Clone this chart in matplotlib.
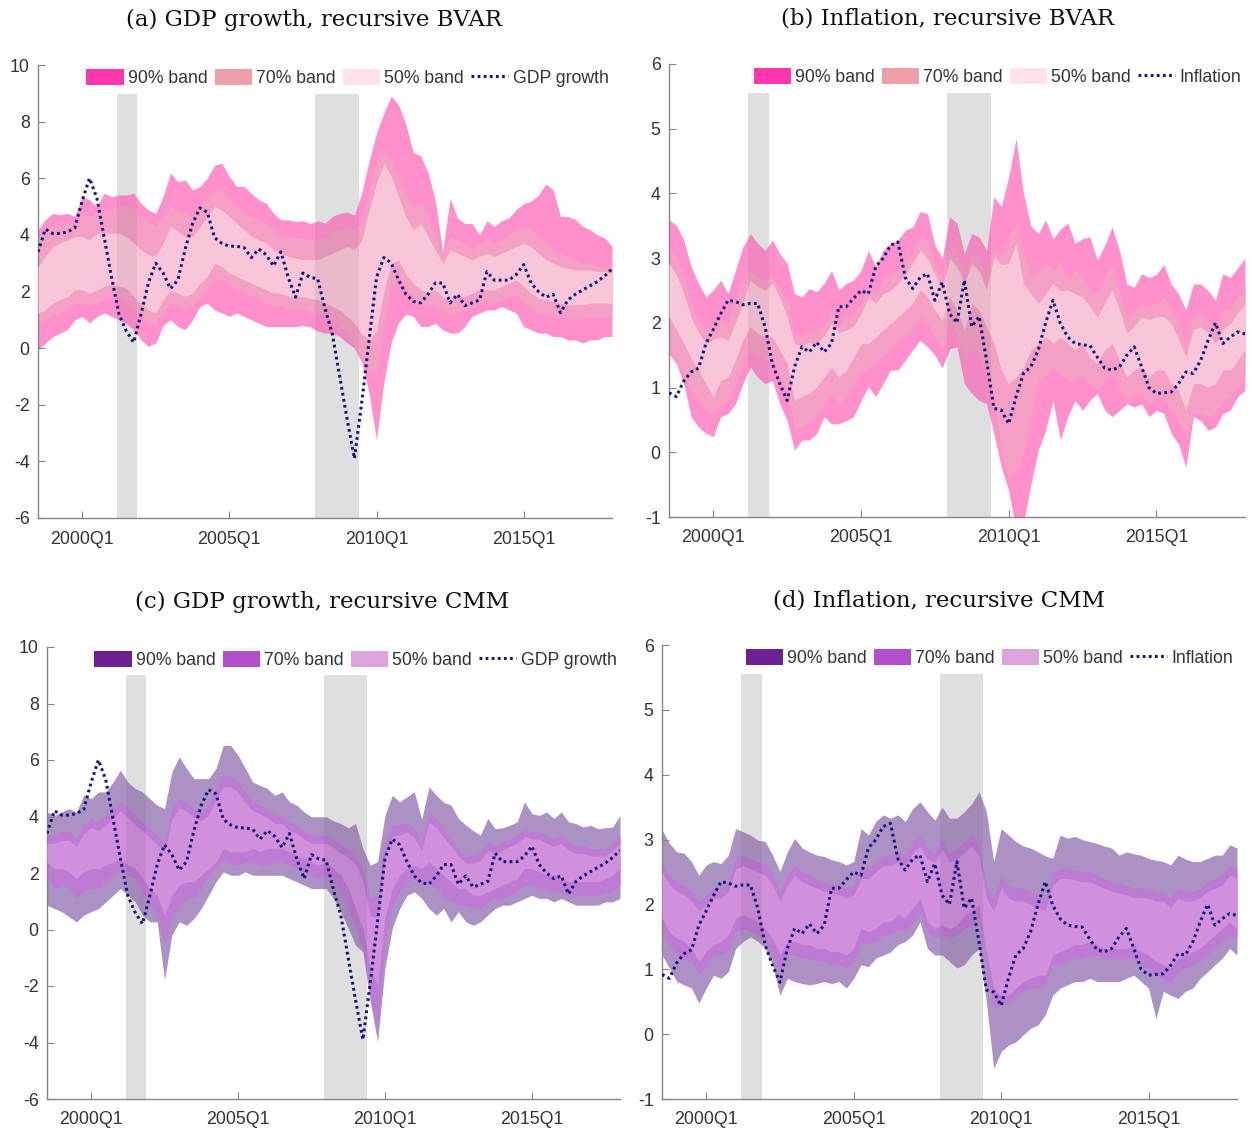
import numpy as np
import matplotlib
matplotlib.use('Agg')
import matplotlib.pyplot as plt
from matplotlib.patches import Patch
from matplotlib.lines import Line2D

# quarterly sample 1998Q3 - 2018Q1
start_year = 1998.5
n_obs = 79
tick_years = [2000, 2005, 2010, 2015]
tick_labels = ['2000Q1', '2005Q1', '2010Q1', '2015Q1']
recessions = [(2001.19, 2001.875), (2007.92, 2009.4)]

gdp = [3.4, 4.2, 4.05, 4.05, 4.1, 4.25, 5.2, 6.0, 5.3, 3.9,
       2.5, 1.2, 0.6, 0.2, 1.2, 2.3, 3.0, 2.65, 2.1, 2.4,
       3.5, 4.4, 4.95, 4.8, 3.9, 3.7, 3.6, 3.6, 3.55, 3.2,
       3.5, 3.3, 2.9, 3.4, 2.5, 1.8, 2.65, 2.5, 2.45, 1.4,
       0.5, -1.0, -2.5, -3.9, -1.9, 0.3, 2.5, 3.2, 3.0, 2.4,
       1.9, 1.65, 1.6, 1.9, 2.3, 2.3, 1.6, 1.9, 1.5, 1.6,
       1.7, 2.7, 2.4, 2.4, 2.4, 2.6, 2.95, 2.3, 2.0, 1.8,
       1.9, 1.25, 1.7, 1.9, 2.05, 2.2, 2.35, 2.55, 2.8]

inflation = [0.92, 0.86, 1.1, 1.24, 1.3, 1.68, 1.9, 2.14, 2.35, 2.33,
             2.28, 2.3, 2.3, 1.94, 1.37, 1.06, 0.8, 1.32, 1.63, 1.55,
             1.7, 1.55, 1.68, 2.25, 2.25, 2.38, 2.5, 2.45, 2.87, 3.0,
             3.2, 3.25, 2.7, 2.53, 2.7, 2.76, 2.35, 2.63, 2.14, 2.0,
             2.66, 1.94, 2.1, 1.42, 0.68, 0.65, 0.44, 0.86, 1.22, 1.32,
             1.58, 2.0, 2.35, 1.99, 1.78, 1.68, 1.66, 1.65, 1.47, 1.3,
             1.27, 1.32, 1.5, 1.63, 1.32, 1.0, 0.91, 0.92, 0.93, 1.06,
             1.24, 1.22, 1.42, 1.73, 2.0, 1.68, 1.78, 1.86, 1.83]

# (a) GDP, recursive BVAR
bvar_gdp_u90 = [4.18, 4.53, 4.76, 4.71, 4.76, 4.65, 5.35, 5.24, 5.0, 5.47,
                5.35, 5.41, 5.41, 5.47, 5.12, 4.88, 4.76, 5.35, 6.18, 5.88,
                5.94, 5.59, 5.71, 6.0, 6.47, 6.53, 6.06, 5.71, 5.71, 5.47,
                5.24, 5.12, 4.76, 4.53, 4.53, 4.47, 4.5, 4.4, 4.5, 4.41,
                4.65, 4.76, 4.8, 4.7, 5.5, 6.6, 7.6, 8.3, 8.9, 8.6,
                7.9, 6.9, 6.8, 6.2, 5.2, 3.4, 5.3, 4.6, 4.4, 4.4,
                4.0, 4.5, 4.3, 4.5, 4.6, 4.9, 5.1, 5.2, 5.4, 5.8,
                5.6, 4.65, 4.65, 4.55, 4.3, 4.18, 4.0, 3.9, 3.6]
bvar_gdp_u70 = [3.94, 4.18, 4.41, 4.35, 4.41, 4.41, 4.76, 4.65, 4.76, 4.88,
                4.88, 5.0, 5.0, 4.94, 4.65, 4.41, 4.29, 4.65, 5.0, 4.88,
                4.76, 4.65, 5.0, 5.35, 5.59, 5.53, 5.24, 5.0, 4.76, 4.65,
                4.53, 4.41, 4.18, 3.94, 3.9, 3.9, 3.85, 3.8, 3.85, 3.9,
                4.18, 4.18, 4.29, 4.18, 4.41, 5.59, 6.65, 7.0, 6.65, 6.06,
                5.47, 5.0, 5.12, 4.65, 3.94, 3.35, 3.94, 3.82, 3.71, 3.47,
                3.71, 3.82, 3.71, 3.82, 4.06, 4.18, 4.29, 4.18, 3.94, 3.71,
                3.47, 3.35, 3.24, 3.12, 3.0, 3.0, 2.88, 2.88, 2.88]
bvar_gdp_u50 = [2.88, 3.24, 3.59, 3.71, 3.82, 3.94, 3.94, 3.82, 4.06, 4.06,
                4.06, 4.06, 3.94, 3.71, 3.47, 3.29, 3.24, 3.71, 4.29, 4.12,
                3.94, 3.94, 4.29, 4.65, 5.0, 4.88, 4.65, 4.41, 4.18, 3.94,
                3.82, 3.71, 3.47, 3.35, 3.24, 3.18, 3.12, 3.12, 3.12, 3.24,
                3.35, 3.47, 3.59, 3.47, 3.82, 4.88, 5.82, 6.53, 6.06, 5.35,
                4.65, 4.18, 4.41, 3.94, 3.47, 3.0, 3.47, 3.35, 3.24, 3.12,
                3.24, 3.35, 3.24, 3.35, 3.47, 3.59, 3.71, 3.59, 3.35, 3.12,
                3.0, 2.88, 2.82, 2.76, 2.76, 2.76, 2.71, 2.71, 2.65]
bvar_gdp_l50 = [1.24, 1.35, 1.59, 1.71, 1.82, 2.06, 2.06, 1.94, 2.06, 2.18,
                2.24, 2.18, 2.12, 1.82, 1.59, 1.35, 1.24, 1.7, 2.06, 1.94,
                1.82, 1.94, 2.29, 2.53, 3.0, 2.88, 2.65, 2.53, 2.41, 2.29,
                2.18, 2.06, 1.94, 1.94, 1.82, 1.82, 1.82, 1.76, 1.71, 1.59,
                1.47, 1.35, 1.12, 0.88, 0.5, 0.3, 0.6, 2.0, 3.0, 3.1,
                2.6, 2.29, 2.06, 1.94, 2.06, 1.82, 1.71, 1.82, 1.82, 1.94,
                2.06, 2.06, 2.06, 2.18, 2.29, 2.41, 2.18, 1.94, 1.76, 1.71,
                1.65, 1.59, 1.53, 1.53, 1.53, 1.59, 1.59, 1.59, 1.59]
bvar_gdp_l70 = [0.8, 0.95, 1.15, 1.25, 1.35, 1.6, 1.6, 1.5, 1.6, 1.75,
                1.8, 1.75, 1.65, 1.4, 1.15, 0.9, 0.8, 1.3, 1.6, 1.5,
                1.4, 1.5, 1.85, 2.05, 2.5, 2.4, 2.2, 2.1, 1.95, 1.85,
                1.75, 1.6, 1.5, 1.5, 1.4, 1.4, 1.4, 1.3, 1.25, 1.1,
                1.0, 0.8, 0.5, 0.1, -0.4, -0.9, -0.8, 0.8, 2.2, 2.5,
                2.05, 1.8, 1.55, 1.45, 1.55, 1.3, 1.2, 1.3, 1.35, 1.5,
                1.6, 1.6, 1.6, 1.7, 1.8, 1.9, 1.65, 1.4, 1.25, 1.2,
                1.15, 1.1, 1.05, 1.05, 1.05, 1.1, 1.1, 1.1, 1.1]
bvar_gdp_l90 = [-0.06, 0.18, 0.41, 0.53, 0.65, 1.0, 1.12, 0.88, 1.12, 1.24,
                1.12, 1.0, 0.88, 0.65, 0.29, 0.06, 0.18, 0.8, 1.0, 0.76,
                0.65, 1.0, 1.47, 1.59, 1.35, 1.24, 1.12, 1.24, 1.12, 1.0,
                0.88, 0.76, 0.76, 0.76, 0.76, 0.76, 0.8, 0.75, 0.6, 0.53,
                0.53, 0.41, 0.18, 0.0, -0.5, -1.6, -3.24, -1.2, 0.2, 0.9,
                1.2, 1.12, 0.76, 0.76, 0.88, 0.65, 0.53, 0.53, 0.76, 1.12,
                1.24, 1.35, 1.35, 1.47, 1.35, 1.24, 0.76, 0.65, 0.53, 0.53,
                0.41, 0.41, 0.29, 0.29, 0.18, 0.29, 0.29, 0.41, 0.41]

# (b) Inflation, recursive BVAR
bvar_inf_u90 = [3.59, 3.51, 3.28, 2.87, 2.61, 2.4, 2.51, 2.66, 2.45, 2.81,
                3.17, 3.38, 3.23, 3.12, 3.28, 3.07, 2.92, 2.45, 2.4, 2.53,
                2.48, 2.61, 2.81, 2.51, 2.61, 2.66, 2.81, 3.12, 2.87, 3.12,
                3.23, 3.28, 3.43, 3.48, 3.72, 3.69, 3.2, 3.0, 3.64, 3.54,
                3.07, 3.38, 3.33, 3.12, 3.95, 3.8, 4.26, 4.85, 4.0, 3.5,
                3.38, 3.59, 3.3, 3.45, 3.54, 3.23, 3.3, 3.33, 2.97, 3.2,
                3.48, 3.12, 2.6, 2.55, 2.76, 2.7, 2.75, 2.9, 2.6, 2.45,
                2.2, 2.6, 2.6, 2.5, 2.35, 2.76, 2.7, 2.85, 3.0]
bvar_inf_u70 = [3.18, 3.02, 2.71, 2.3, 2.04, 1.89, 1.99, 2.09, 1.99, 2.35,
                2.66, 2.81, 2.71, 2.66, 2.71, 2.51, 2.35, 1.84, 1.78, 1.89,
                1.84, 1.99, 2.2, 1.94, 2.09, 2.14, 2.3, 2.61, 2.4, 2.66,
                2.76, 2.81, 3.02, 3.07, 3.33, 3.28, 2.92, 2.66, 3.18, 3.12,
                2.71, 3.07, 3.02, 2.71, 3.18, 3.02, 3.33, 3.54, 3.12, 2.71,
                2.81, 2.92, 2.81, 2.92, 2.71, 2.81, 2.71, 2.51, 2.45, 2.71,
                2.87, 2.51, 2.09, 2.2, 2.3, 2.25, 2.3, 2.4, 2.25, 1.99,
                1.68, 2.14, 2.14, 2.04, 1.89, 2.2, 2.2, 2.4, 2.51]
bvar_inf_u50 = [2.92, 2.75, 2.45, 2.09, 1.85, 1.68, 1.75, 1.78, 1.73, 2.0,
                2.3, 2.66, 2.56, 2.5, 2.61, 2.4, 2.09, 1.68, 1.65, 1.7,
                1.68, 1.8, 1.99, 1.85, 1.89, 1.95, 2.14, 2.4, 2.3, 2.45,
                2.5, 2.61, 2.75, 2.92, 3.12, 3.0, 2.76, 2.5, 3.0, 2.87,
                2.61, 2.92, 2.8, 2.51, 3.02, 2.9, 2.92, 3.23, 2.61, 2.45,
                2.3, 2.45, 2.61, 2.5, 2.51, 2.45, 2.4, 2.25, 2.09, 2.3,
                2.51, 2.2, 1.84, 1.95, 2.09, 2.05, 2.09, 2.1, 1.99, 1.75,
                1.47, 1.9, 1.94, 1.85, 1.68, 1.9, 1.99, 2.15, 2.3]
bvar_inf_l50 = [2.09, 1.9, 1.68, 1.45, 1.27, 1.06, 0.86, 1.11, 1.16, 1.42,
                1.73, 1.94, 1.84, 1.78, 1.78, 1.58, 1.37, 0.8, 0.86, 0.91,
                1.01, 1.16, 1.32, 1.16, 1.27, 1.47, 1.68, 1.68, 1.78, 1.89,
                1.99, 2.09, 2.2, 2.3, 2.51, 2.4, 2.2, 2.04, 2.4, 2.2,
                1.89, 2.3, 2.2, 1.94, 1.68, 1.27, 1.06, 1.16, 1.32, 1.58,
                1.68, 1.78, 1.68, 1.78, 1.68, 1.58, 1.68, 1.47, 1.37, 1.58,
                1.68, 1.42, 1.16, 1.27, 1.32, 1.16, 1.27, 1.27, 1.06, 0.96,
                0.65, 1.06, 1.06, 1.01, 1.06, 1.27, 1.27, 1.42, 1.58]
bvar_inf_l70 = [1.6, 1.4, 1.2, 0.95, 0.8, 0.65, 0.55, 0.75, 0.8, 1.05,
                1.35, 1.6, 1.5, 1.45, 1.4, 1.2, 0.95, 0.35, 0.4, 0.45,
                0.55, 0.75, 0.9, 0.75, 0.85, 1.05, 1.25, 1.3, 1.4, 1.5,
                1.6, 1.7, 1.8, 1.9, 2.1, 2.0, 1.8, 1.6, 2.0, 1.8,
                1.45, 1.6, 1.5, 1.2, 0.9, 0.0, -0.4, -0.3, 0.0, 0.5,
                1.1, 1.2, 1.3, 1.2, 1.1, 1.1, 1.2, 1.05, 0.95, 1.1,
                1.2, 1.0, 0.75, 0.85, 0.9, 0.75, 0.85, 0.85, 0.65, 0.5,
                0.2, 0.6, 0.6, 0.55, 0.6, 0.8, 0.85, 1.0, 1.15]
bvar_inf_l90 = [1.52, 1.37, 1.06, 0.55, 0.39, 0.29, 0.24, 0.55, 0.6, 0.75,
                1.06, 1.32, 1.16, 1.06, 1.11, 0.75, 0.49, 0.03, 0.19, 0.19,
                0.29, 0.55, 0.44, 0.44, 0.49, 0.55, 0.8, 1.01, 0.86, 1.06,
                1.27, 1.27, 1.42, 1.58, 1.73, 1.63, 1.5, 1.3, 1.6, 1.63,
                1.06, 0.91, 0.8, 0.75, 0.29, -0.23, -0.59, -1.2, -1.1, -0.5,
                0.03, 0.34, 0.8, 0.19, 0.55, 0.8, 0.65, 0.8, 0.91, 0.65,
                0.55, 0.65, 0.75, 0.7, 0.75, 0.55, 0.65, 0.6, 0.29, 0.13,
                -0.23, 0.55, 0.49, 0.34, 0.39, 0.6, 0.65, 0.86, 0.96]

# (c) GDP, recursive CMM
cmm_gdp_u90 = [4.16, 4.04, 4.16, 4.28, 4.16, 4.75, 4.63, 4.87, 4.87, 5.22,
               5.64, 5.22, 4.99, 4.87, 4.63, 4.4, 4.28, 5.58, 6.11, 5.7,
               5.34, 5.34, 5.34, 5.7, 6.52, 6.52, 6.17, 5.7, 5.22, 5.1,
               4.99, 4.75, 4.87, 4.52, 4.4, 4.16, 3.99, 3.99, 3.99, 3.85,
               3.75, 3.6, 3.75, 2.87, 2.28, 2.4, 4.04, 4.75, 4.52, 4.7,
               4.87, 3.9, 5.05, 4.75, 4.5, 4.4, 3.93, 3.7, 3.5, 3.34,
               3.93, 3.57, 3.6, 3.69, 3.81, 4.52, 4.1, 4.04, 4.16, 3.93,
               4.16, 3.81, 3.75, 3.63, 3.69, 3.57, 3.6, 3.63, 4.04]
cmm_gdp_u70 = [3.34, 3.34, 3.46, 3.46, 3.22, 3.69, 3.93, 3.81, 4.04, 4.28,
               4.52, 4.28, 4.04, 3.81, 3.57, 3.34, 3.1, 4.28, 4.63, 4.52,
               4.28, 4.16, 4.4, 4.99, 5.46, 5.46, 5.22, 4.87, 4.52, 4.4,
               4.28, 4.04, 4.04, 3.81, 3.69, 3.46, 3.34, 3.34, 3.34, 3.22,
               2.98, 2.87, 2.63, 2.16, 1.1, 1.21, 3.1, 3.69, 3.69, 3.81,
               3.57, 3.1, 4.16, 3.93, 3.57, 3.22, 2.87, 2.63, 2.63, 2.75,
               3.1, 2.98, 3.1, 3.22, 3.34, 3.57, 3.46, 3.46, 3.34, 3.22,
               3.34, 3.1, 2.98, 2.98, 2.87, 2.87, 2.87, 3.1, 3.34]
cmm_gdp_u50 = [3.05, 3.05, 3.15, 3.15, 2.95, 3.4, 3.6, 3.5, 3.7, 3.95,
               4.2, 3.95, 3.7, 3.5, 3.25, 3.0, 2.75, 3.9, 4.3, 4.2,
               3.95, 3.85, 4.05, 4.6, 5.05, 5.05, 4.85, 4.5, 4.2, 4.1,
               3.95, 3.75, 3.75, 3.5, 3.4, 3.2, 3.05, 3.05, 3.05, 2.9,
               2.7, 2.55, 2.3, 1.7, 0.5, 0.4, 2.6, 3.3, 3.35, 3.45,
               3.25, 2.8, 3.8, 3.6, 3.25, 2.95, 2.6, 2.35, 2.35, 2.45,
               2.8, 2.7, 2.8, 2.95, 3.05, 3.3, 3.2, 3.2, 3.05, 2.95,
               3.05, 2.8, 2.7, 2.7, 2.6, 2.6, 2.6, 2.8, 3.05]
cmm_gdp_l50 = [2.39, 2.16, 2.16, 2.04, 1.8, 2.04, 2.16, 2.16, 2.28, 2.39,
               2.51, 2.28, 2.16, 1.8, 1.45, 1.21, 0.5, 1.21, 1.57, 1.69,
               1.69, 1.92, 2.16, 2.39, 2.87, 2.75, 2.75, 2.75, 2.87, 2.75,
               2.87, 2.87, 2.87, 2.75, 2.63, 2.51, 2.39, 2.28, 2.39, 2.16,
               1.92, 1.45, 0.74, 0.04, -1.38, -1.97, 0.39, 1.45, 1.92, 2.16,
               2.28, 2.16, 2.39, 2.16, 1.92, 1.69, 1.45, 1.45, 1.21, 1.21,
               1.33, 1.45, 1.57, 1.69, 1.8, 2.16, 2.16, 2.04, 1.92, 1.92,
               1.8, 1.69, 1.69, 1.69, 1.69, 1.69, 1.8, 1.92, 2.16]
cmm_gdp_l70 = [1.8, 1.45, 1.57, 1.45, 1.1, 1.33, 1.45, 1.45, 1.69, 1.92,
               2.16, 1.92, 1.8, 1.33, 0.86, 0.51, -0.55, 0.39, 0.86, 1.1,
               1.1, 1.45, 1.92, 2.16, 2.51, 2.28, 2.28, 2.39, 2.39, 2.28,
               2.28, 2.39, 2.39, 2.28, 2.16, 2.04, 1.92, 1.8, 1.92, 1.69,
               1.33, 0.74, 0.04, -0.67, -2.32, -3.5, -0.44, 0.74, 1.33, 1.69,
               1.8, 1.57, 1.69, 1.45, 1.21, 0.98, 0.86, 0.86, 0.74, 0.74,
               0.98, 1.1, 1.1, 1.21, 1.33, 1.57, 1.57, 1.45, 1.45, 1.33,
               1.33, 1.21, 1.21, 1.21, 1.21, 1.21, 1.33, 1.33, 1.57]
cmm_gdp_l90 = [0.86, 0.74, 0.63, 0.45, 0.27, 0.51, 0.63, 0.74, 0.98, 1.21,
               1.45, 1.21, 0.98, 0.51, 0.27, 0.27, -1.79, -0.2, 0.27, 0.15,
               0.39, 0.74, 1.21, 1.69, 2.04, 1.92, 1.92, 2.04, 1.92, 1.92,
               1.92, 1.92, 1.92, 1.8, 1.69, 1.57, 1.45, 1.45, 1.45, 1.1,
               0.63, 0.04, -0.55, -0.79, -2.56, -3.97, -1.38, 0.04, 0.74, 1.21,
               1.33, 1.1, 0.74, 0.51, 0.74, 0.27, 0.63, 0.27, 0.15, 0.27,
               0.51, 0.74, 0.86, 0.86, 0.98, 1.1, 1.21, 1.1, 1.1, 0.98,
               1.1, 0.98, 0.86, 0.86, 0.86, 0.86, 0.98, 0.98, 1.1]

# (d) Inflation, recursive CMM
cmm_inf_u90 = [3.15, 2.94, 2.81, 2.79, 2.66, 2.45, 2.61, 2.66, 2.63, 2.76,
               3.17, 3.12, 3.07, 2.99, 2.97, 2.76, 2.51, 2.81, 3.02, 2.87,
               2.81, 2.76, 2.74, 2.69, 2.66, 2.61, 2.66, 3.17, 3.07, 3.28,
               3.38, 3.33, 3.38, 3.28, 3.48, 3.58, 3.43, 3.3, 3.5, 3.33,
               3.33, 3.43, 3.55, 3.74, 3.43, 2.66, 3.17, 3.07, 2.97, 2.9,
               2.87, 2.81, 2.75, 2.71, 3.07, 3.02, 3.05, 3.0, 2.97, 2.94,
               2.9, 2.87, 2.76, 2.81, 2.78, 2.76, 2.71, 2.68, 2.66, 2.61,
               2.76, 2.7, 2.66, 2.66, 2.71, 2.76, 2.76, 2.92, 2.87]
cmm_inf_u70 = [2.66, 2.45, 2.35, 2.3, 2.2, 2.04, 2.15, 2.25, 2.25, 2.35,
               2.71, 2.76, 2.71, 2.66, 2.61, 2.45, 2.2, 2.45, 2.61, 2.51,
               2.45, 2.4, 2.35, 2.33, 2.3, 2.25, 2.3, 2.56, 2.56, 2.66,
               2.76, 2.76, 2.81, 2.76, 2.97, 3.07, 2.87, 2.8, 3.0, 2.81,
               2.87, 2.97, 3.07, 2.92, 2.3, 2.09, 2.45, 2.3, 2.25, 2.25,
               2.2, 2.15, 2.09, 2.45, 2.56, 2.56, 2.53, 2.51, 2.51, 2.45,
               2.4, 2.35, 2.33, 2.3, 2.25, 2.25, 2.25, 2.2, 2.2, 2.09,
               2.25, 2.2, 2.2, 2.25, 2.35, 2.4, 2.45, 2.61, 2.56]
cmm_inf_u50 = [2.5, 2.3, 2.2, 2.15, 2.05, 1.9, 2.0, 2.1, 2.1, 2.2,
               2.55, 2.6, 2.55, 2.5, 2.45, 2.3, 2.05, 2.3, 2.45, 2.35,
               2.3, 2.25, 2.2, 2.18, 2.15, 2.1, 2.15, 2.4, 2.4, 2.5,
               2.6, 2.6, 2.65, 2.6, 2.8, 2.9, 2.7, 2.65, 2.85, 2.65,
               2.7, 2.8, 2.9, 2.75, 2.1, 1.9, 2.25, 2.1, 2.05, 2.05,
               2.0, 1.95, 1.9, 2.3, 2.4, 2.4, 2.38, 2.35, 2.35, 2.3,
               2.25, 2.2, 2.18, 2.15, 2.1, 2.1, 2.1, 2.05, 2.05, 1.95,
               2.1, 2.05, 2.05, 2.1, 2.2, 2.25, 2.3, 2.45, 2.4]
cmm_inf_l50 = [1.79, 1.58, 1.48, 1.43, 1.32, 1.12, 1.27, 1.38, 1.43, 1.53,
               1.79, 1.84, 1.79, 1.73, 1.63, 1.48, 1.22, 1.43, 1.43, 1.38,
               1.38, 1.32, 1.32, 1.27, 1.27, 1.22, 1.32, 1.63, 1.58, 1.63,
               1.73, 1.73, 1.84, 1.79, 1.94, 2.09, 1.73, 1.63, 1.68, 1.63,
               1.68, 1.84, 1.89, 1.99, 1.27, 0.71, 0.6, 0.6, 0.71, 0.81,
               0.86, 0.91, 0.91, 1.22, 1.27, 1.32, 1.38, 1.38, 1.43, 1.38,
               1.32, 1.32, 1.32, 1.32, 1.38, 1.27, 1.22, 1.12, 1.07, 1.02,
               1.17, 1.22, 1.27, 1.32, 1.43, 1.53, 1.63, 1.73, 1.63]
cmm_inf_l70 = [1.58, 1.38, 1.22, 1.17, 1.12, 0.91, 1.07, 1.22, 1.22, 1.27,
               1.58, 1.63, 1.58, 1.53, 1.43, 1.22, 0.96, 1.22, 1.22, 1.17,
               1.17, 1.12, 1.12, 1.07, 1.07, 1.02, 1.12, 1.43, 1.38, 1.43,
               1.53, 1.53, 1.63, 1.58, 1.73, 1.89, 1.58, 1.48, 1.53, 1.48,
               1.53, 1.63, 1.68, 1.79, 1.02, 0.4, 0.45, 0.5, 0.6, 0.66,
               0.71, 0.71, 0.76, 1.07, 1.07, 1.12, 1.17, 1.17, 1.22, 1.22,
               1.17, 1.17, 1.17, 1.17, 1.17, 1.07, 1.02, 0.91, 0.86, 0.81,
               0.96, 1.02, 1.07, 1.12, 1.22, 1.32, 1.43, 1.53, 1.48]
cmm_inf_l90 = [1.22, 1.02, 0.81, 0.76, 0.71, 0.48, 0.71, 0.91, 0.86, 0.96,
               1.32, 1.43, 1.5, 1.43, 1.32, 1.07, 0.6, 0.86, 0.81, 0.78,
               0.76, 0.78, 0.81, 0.78, 0.81, 0.71, 0.86, 1.07, 1.04, 1.17,
               1.22, 1.27, 1.38, 1.43, 1.53, 1.73, 1.32, 1.22, 1.22, 1.12,
               1.02, 1.07, 1.22, 1.32, 0.5, -0.53, -0.27, -0.17, -0.12, -0.01,
               0.09, 0.14, 0.3, 0.6, 0.71, 0.76, 0.81, 0.81, 0.86, 0.81,
               0.81, 0.81, 0.81, 0.86, 0.91, 0.81, 0.71, 0.24, 0.66, 0.6,
               0.55, 0.66, 0.71, 0.86, 0.96, 1.07, 1.17, 1.32, 1.22]

x = start_year + 0.25 * np.arange(n_obs)

pink_fill = ['#FF90CC', '#F4A0C4', '#F9C6D9']
pink_key = ['#FF36AD', '#EEA0AA', '#FDE4EC']
purple_fill = ['#AC92C4', '#BE7BD3', '#D090DC']
purple_key = ['#6B2191', '#B44FCB', '#DDA3DD']
line_col = '#16167A'
axis_col = '#858585'
text_col = '#333333'

plt.rcParams['font.family'] = ['Liberation Sans', 'DejaVu Sans']
plt.rcParams['axes.unicode_minus'] = False

fig = plt.figure(figsize=(12.53, 11.3), dpi=100)


def draw_panel(rect, bands, series, series_name, fills, keys, ylim, yticks,
               title, title_xy):
    ax = fig.add_axes(rect)
    u90, u70, u50, l50, l70, l90 = bands
    # recession bars: light grey behind, faint shade on top of the bands
    for a, b in recessions:
        ax.axvspan(a, b, ymin=0, ymax=0.937, color='#EDEDED', lw=0, zorder=0)
    ax.fill_between(x, l90, u90, color=fills[0], lw=0, zorder=1)
    ax.fill_between(x, l70, u70, color=fills[1], lw=0, zorder=2)
    ax.fill_between(x, l50, u50, color=fills[2], lw=0, zorder=3)
    for a, b in recessions:
        ax.axvspan(a, b, ymin=0, ymax=0.937, color='k', alpha=0.06, lw=0, zorder=4)
    ax.plot(x, series, color=line_col, lw=2.2, ls=(0, (0.9, 1.1)), zorder=5)

    ax.set_xlim(x[0], x[-1])
    ax.set_ylim(*ylim)
    ax.set_yticks(yticks)
    ax.set_xticks(tick_years)
    ax.set_xticklabels(tick_labels)
    for s in ['top', 'right']:
        ax.spines[s].set_visible(False)
    for s in ['left', 'bottom']:
        ax.spines[s].set_color(axis_col)
        ax.spines[s].set_linewidth(1.0)
    ax.tick_params(direction='in', length=5, color=axis_col, labelcolor=text_col,
                   labelsize=12.8)
    ax.tick_params(axis='x', pad=9)
    ax.tick_params(axis='y', pad=6)

    handles = [Patch(facecolor=keys[0], edgecolor='none'),
               Patch(facecolor=keys[1], edgecolor='none'),
               Patch(facecolor=keys[2], edgecolor='none'),
               Line2D([], [], color=line_col, lw=2.2, ls=(0, (0.9, 1.1)))]
    labels = ['90% band', '70% band', '50% band', series_name]
    ax.legend(handles, labels, ncol=4, loc='upper right', bbox_to_anchor=(1.0, 1.0),
              frameon=False, fontsize=12.7, handlelength=2.1, handleheight=1.05,
              handletextpad=0.25, columnspacing=0.4, borderaxespad=0.0,
              borderpad=0.2, labelcolor=text_col)

    fig.text(title_xy[0] / 1253, 1 - title_xy[1] / 1130, title,
             ha='center', va='center', fontsize=16.5, family='DejaVu Serif',
             color='#111111')
    return ax


draw_panel([38 / 1253, 1 - 518 / 1130, 574 / 1253, 453 / 1130],
           [bvar_gdp_u90, bvar_gdp_u70, bvar_gdp_u50, bvar_gdp_l50, bvar_gdp_l70, bvar_gdp_l90],
           gdp, 'GDP growth', pink_fill, pink_key, (-6, 10), range(-6, 11, 2),
           '(a) GDP growth, recursive BVAR', (314, 20))
draw_panel([669 / 1253, 1 - 517 / 1130, 576 / 1253, 453 / 1130],
           [bvar_inf_u90, bvar_inf_u70, bvar_inf_u50, bvar_inf_l50, bvar_inf_l70, bvar_inf_l90],
           inflation, 'Inflation', pink_fill, pink_key, (-1, 6), range(-1, 7),
           '(b) Inflation, recursive BVAR', (948, 19))
draw_panel([47 / 1253, 1 - 1099 / 1130, 573 / 1253, 452 / 1130],
           [cmm_gdp_u90, cmm_gdp_u70, cmm_gdp_u50, cmm_gdp_l50, cmm_gdp_l70, cmm_gdp_l90],
           gdp, 'GDP growth', purple_fill, purple_key, (-6, 10), range(-6, 11, 2),
           '(c) GDP growth, recursive CMM', (322, 602))
draw_panel([662 / 1253, 1 - 1099 / 1130, 575 / 1253, 454 / 1130],
           [cmm_inf_u90, cmm_inf_u70, cmm_inf_u50, cmm_inf_l50, cmm_inf_l70, cmm_inf_l90],
           inflation, 'Inflation', purple_fill, purple_key, (-1, 6), range(-1, 7),
           '(d) Inflation, recursive CMM', (939, 601))

fig.savefig('out.png', dpi=100)
